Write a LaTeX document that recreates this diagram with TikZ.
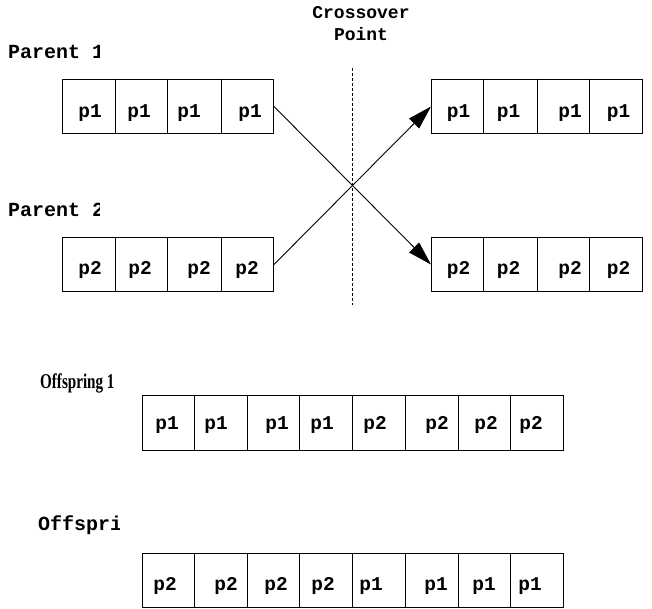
\documentclass[tikz,border=0pt]{standalone}
\usepackage{fontspec}
\usepackage{graphicx}
\usetikzlibrary{arrows.meta}
\newfontfamily\courfont{Liberation Mono}
\newfontfamily\timfont{Liberation Serif}
\begin{document}
\begin{tikzpicture}[x=1pt,y=-1pt,
  rowbox/.style={draw, line width=1pt, inner sep=0pt, anchor=north west, minimum height=54pt},
  cellline/.style={line width=1pt},
  gene/.style={inner sep=0pt, font=\courfont\bfseries\fontsize{19.5}{22}\selectfont},
  lbl/.style={inner sep=0pt, anchor=west, font=\courfont\bfseries\fontsize{20}{22}\selectfont},
  xarrow/.style={line width=0.9pt, -{Triangle[length=24pt,width=14pt]}},
  cutline/.style={line width=0.8pt, dash pattern=on 3pt off 2pt}]
\useasboundingbox (0,0) rectangle (652,609);
% title
\node[inner sep=0pt, align=center, font=\courfont\bfseries\fontsize{18}{22}\selectfont] (title) at (361,24) {Crossover\\Point};
% labels (clipped as printed)
\begin{scope}
  \clip (0,30) rectangle (99,75);
  \node[lbl] (lp1) at (8,52) {Parent 1};
\end{scope}
\begin{scope}
  \clip (0,190) rectangle (99,230);
  \node[lbl] (lp2) at (8,210) {Parent 2};
\end{scope}
\node[inner sep=0pt, anchor=west] (lo1) at (40,383) {\scalebox{0.72}[1]{\timfont\bfseries\fontsize{21}{22}\selectfont Offspring 1}};
\begin{scope}
  \clip (0,505) rectangle (119,545);
  \node[lbl] (lo2) at (38,525) {Offspring 2};
\end{scope}
% parent rows
\node[rowbox, minimum width=211pt] (par1) at (62,79) {};
\foreach \x in {115,167,221} \draw[cellline] (\x,79) -- (\x,133);
\foreach \x [count=\i] in {90,139,189,250} \node[gene] (par1t\i) at (\x,113) {p1};
\node[rowbox, minimum width=211pt] (par2) at (62,237) {};
\foreach \x in {115,167,221} \draw[cellline] (\x,237) -- (\x,291);
\foreach \x [count=\i] in {90,140,199,247} \node[gene] (par2t\i) at (\x,270) {p2};
% child rows (right)
\node[rowbox, minimum width=211pt] (ch1) at (431,79) {};
\foreach \x in {483,537,589} \draw[cellline] (\x,79) -- (\x,133);
\foreach \x [count=\i] in {458.5,508.5,570,618.5} \node[gene] (ch1t\i) at (\x,113) {p1};
\node[rowbox, minimum width=211pt] (ch2) at (431,237) {};
\foreach \x in {483,537,589} \draw[cellline] (\x,237) -- (\x,291);
\foreach \x [count=\i] in {458.5,508.5,570,618.5} \node[gene] (ch2t\i) at (\x,270) {p2};
% crossover point line
\coordinate (cuttop) at (352,68);
\coordinate (cutbot) at (352,305);
\draw[cutline] (cuttop) -- (cutbot);
% crossing arrows
\draw[xarrow] (par1.east) -- (ch2.west);
\draw[xarrow] (par2.east) -- (ch1.west);
% offspring rows
\node[rowbox, minimum width=421pt, minimum height=55pt] (off1) at (142,395) {};
\foreach \x in {194.6,247,299.6,352,405,458,510.6} \draw[cellline] (\x,395) -- (\x,450);
\foreach \x/\t [count=\i] in {167/p1,216/p1,277/p1,322/p1,375/p2,437/p2,486/p2,531/p2} \node[gene] (off1t\i) at (\x,425) {\t};
\node[rowbox, minimum width=421pt] (off2) at (142,553) {};
\foreach \x in {194.6,247,299.6,352,405,458,510.6} \draw[cellline] (\x,553) -- (\x,607);
\foreach \x/\t [count=\i] in {165/p2,226/p2,276/p2,323/p2,371/p1,436/p1,484/p1,530/p1} \node[gene] (off2t\i) at (\x,586) {\t};
\end{tikzpicture}
\end{document}
